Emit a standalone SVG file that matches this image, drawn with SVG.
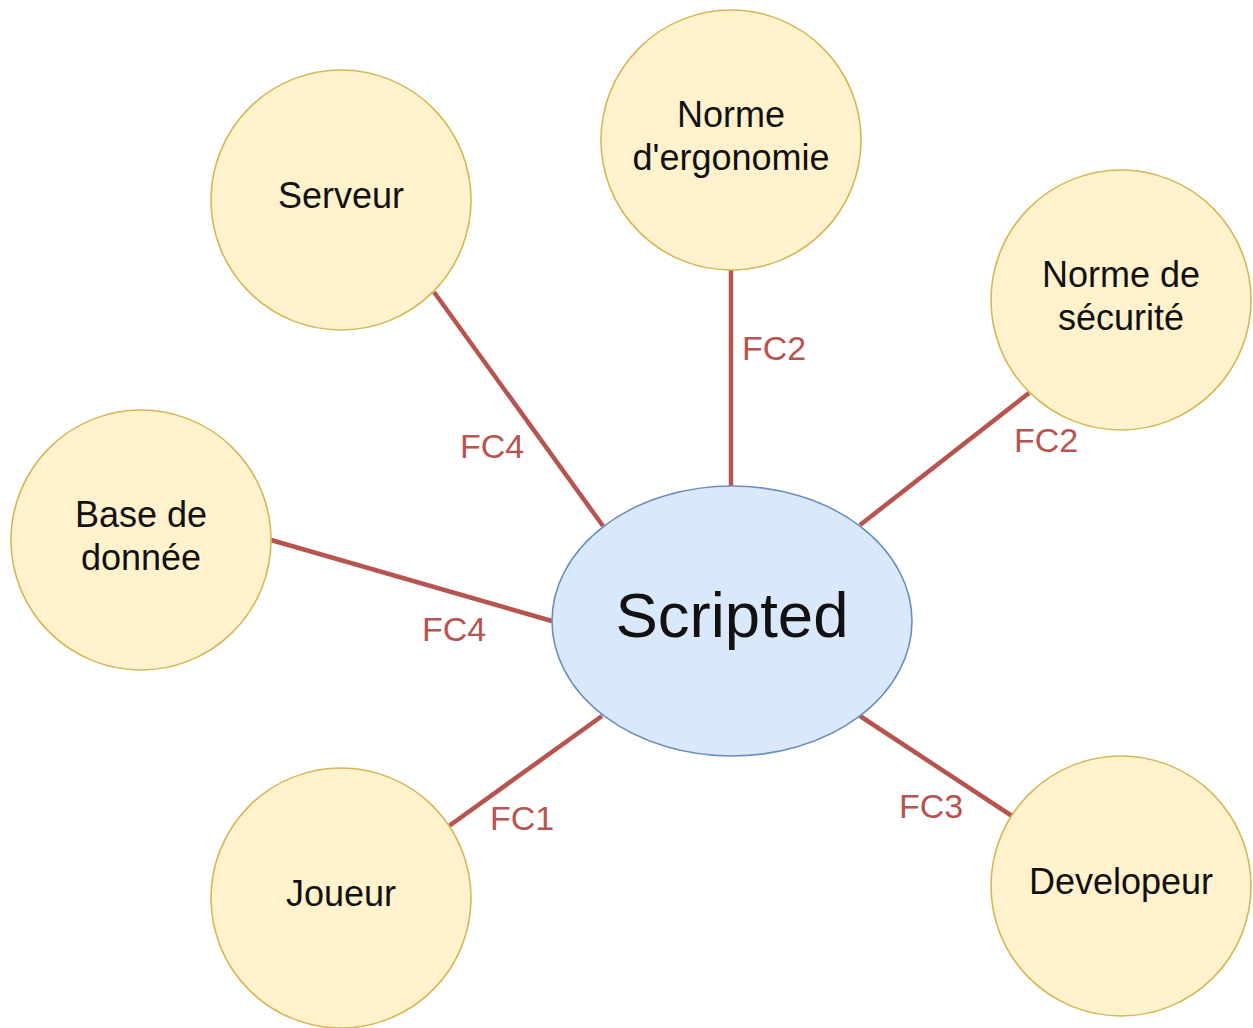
<svg xmlns="http://www.w3.org/2000/svg" width="1253" height="1028" viewBox="0 0 1253 1028">
<style>
.node{fill:#fff2cc;stroke:#d6b656;stroke-width:1.6}
.main{fill:#dae8fc;stroke:#6c8ebf;stroke-width:1.6}
.t{font-family:"Liberation Sans",Arial,sans-serif;font-size:36px;fill:#111;text-anchor:middle}
.big{font-size:63.5px}
.edge{stroke:#b85450;stroke-width:4.5;fill:none}
.lbl{font-family:"Liberation Sans",Arial,sans-serif;font-size:34px;fill:#b85450;text-anchor:middle}
</style>
<rect width="1253" height="1028" fill="#ffffff"/>
<g id="connectors">
<line class="edge" x1="434" y1="292" x2="603" y2="526"/>
<line class="edge" x1="731" y1="270" x2="731" y2="486"/>
<line class="edge" x1="1029" y1="393" x2="860" y2="525"/>
<line class="edge" x1="271" y1="540" x2="552" y2="621"/>
<line class="edge" x1="449" y1="826" x2="602" y2="716"/>
<line class="edge" x1="860" y1="716" x2="1012" y2="816"/>
<text class="lbl" x="492" y="458">FC4</text>
<text class="lbl" x="774" y="360">FC2</text>
<text class="lbl" x="1046" y="452">FC2</text>
<text class="lbl" x="454" y="641">FC4</text>
<text class="lbl" x="522" y="830">FC1</text>
<text class="lbl" x="931" y="818">FC3</text>
</g>
<g id="scripted">
<ellipse class="main" cx="732" cy="621" rx="180" ry="135"/>
<text class="t big" x="732" y="637">Scripted</text>
</g>
<g id="serveur">
<circle class="node" cx="341" cy="200" r="130"/>
<text class="t" x="341" y="208">Serveur</text>
</g>
<g id="ergonomie">
<circle class="node" cx="731" cy="140" r="130"/>
<text class="t" x="731" y="127">Norme</text>
<text class="t" x="731" y="170">d'ergonomie</text>
</g>
<g id="securite">
<circle class="node" cx="1121" cy="300" r="130"/>
<text class="t" x="1121" y="287">Norme de</text>
<text class="t" x="1121" y="330">sécurité</text>
</g>
<g id="base">
<circle class="node" cx="141" cy="540" r="130"/>
<text class="t" x="141" y="527">Base de</text>
<text class="t" x="141" y="570">donnée</text>
</g>
<g id="joueur">
<circle class="node" cx="341" cy="898" r="130"/>
<text class="t" x="341" y="906">Joueur</text>
</g>
<g id="developeur">
<circle class="node" cx="1121" cy="886" r="130"/>
<text class="t" x="1121" y="894">Developeur</text>
</g>
</svg>
